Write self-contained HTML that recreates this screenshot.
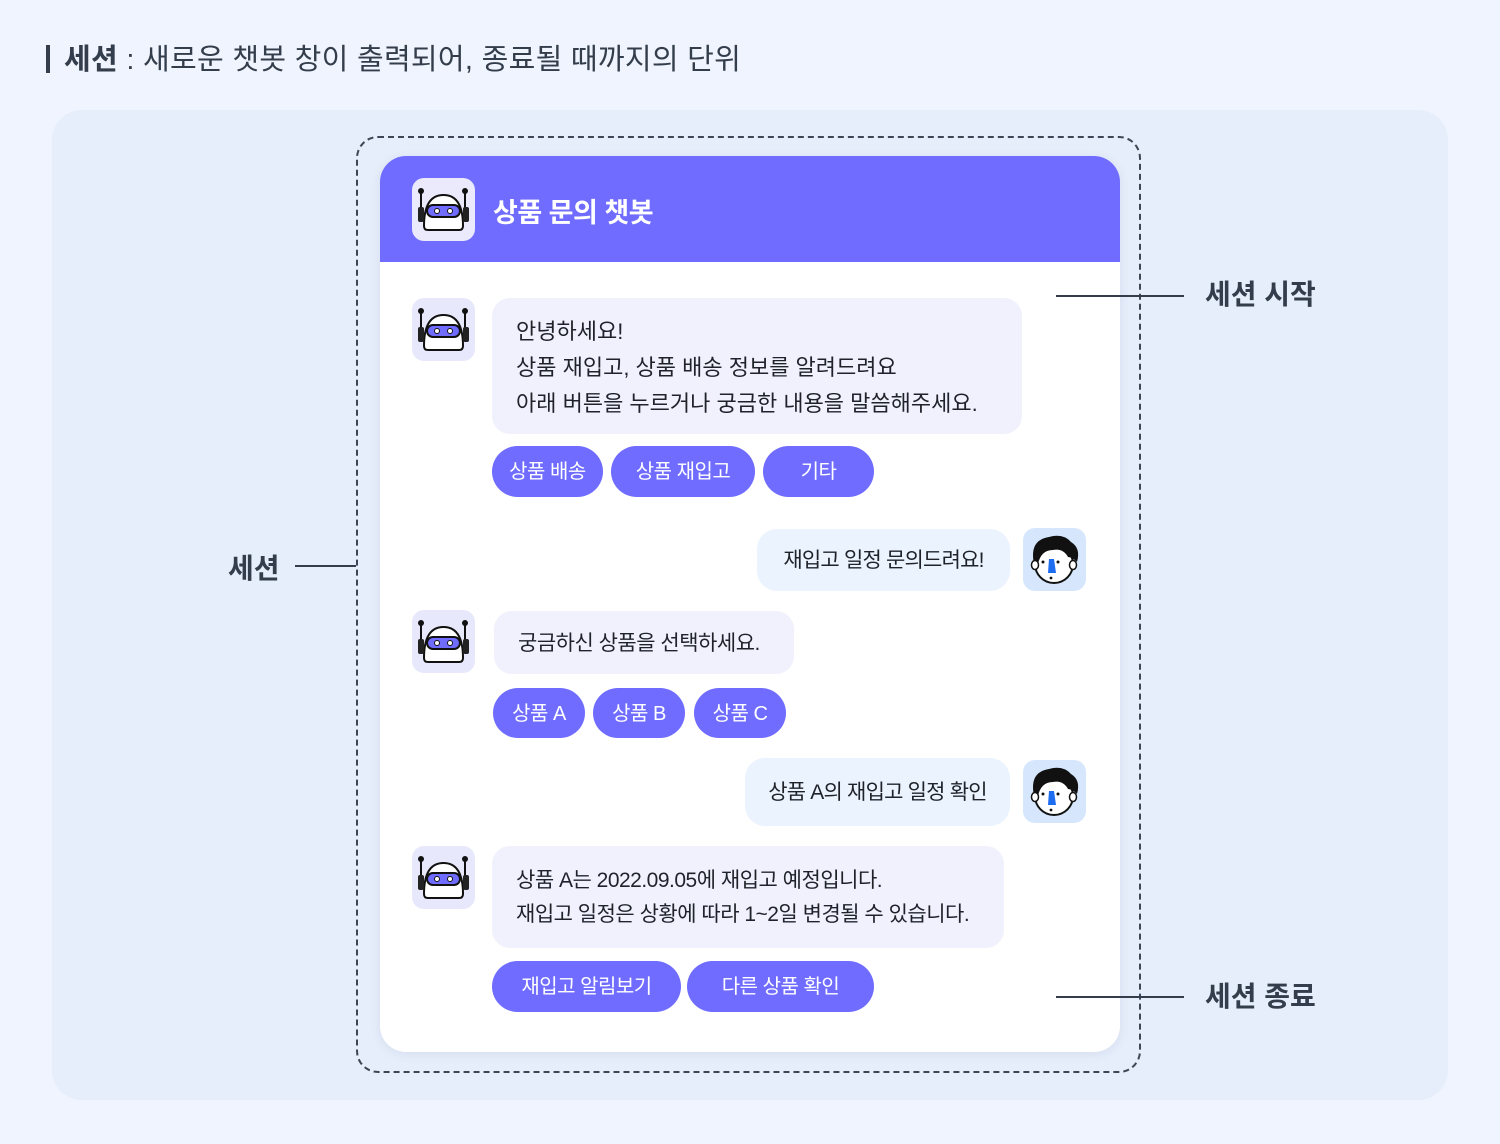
<!DOCTYPE html>
<html><head><meta charset="utf-8"><style>
*{margin:0;padding:0;box-sizing:border-box}
body{width:1500px;height:1144px;background:#eff4fe;font-family:"Liberation Sans","Noto Sans CJK KR",sans-serif;position:relative;overflow:hidden;color:#1f2329}
.a{position:absolute}
.title{left:46px;top:40px;font-size:29px;color:#333d4b;white-space:nowrap;line-height:40px;letter-spacing:0.3px}
.panel{left:52px;top:110px;width:1396px;height:990px;background:#e6eefb;border-radius:30px}
.dash{left:356px;top:136px;width:785px;height:937px;border:2px dashed #3d4656;border-radius:22px}
.card{left:380px;top:156px;width:740px;height:896px;background:#fff;border-radius:26px;overflow:hidden;box-shadow:0 2px 10px rgba(100,110,160,.12)}
.hdr{left:0;top:0;width:740px;height:106px;background:#6f6cff}
.ic{width:63px;height:63px;border-radius:12px;background:#e8e8fc}
.av{width:63px;height:63px;border-radius:12px;background:#d6e7fd}
.bb{background:#f0f1fd;border-radius:18px;font-size:22px;line-height:36px;padding:0 24px;white-space:nowrap;letter-spacing:-0.5px}
.ub{background:#ebf3fe;border-radius:20px;font-size:21px;text-align:center;white-space:nowrap;letter-spacing:-0.8px}
.btn{background:#6f6cff;color:#fff;border-radius:26px;font-size:20px;text-align:center;line-height:53px;height:51px;white-space:nowrap;letter-spacing:-0.5px}
.lbl{font-size:28px;font-weight:bold;color:#333d4b;white-space:nowrap}
.ln{height:2px;background:#333d4b}
</style></head><body>
<div class="a title"><span style="display:inline-block;width:4px;height:28px;background:#333d4b;vertical-align:-4px;margin-right:14px"></span><b>세션</b> : 새로운 챗봇 창이 출력되어, 종료될 때까지의 단위</div>
<div class="a panel"></div>
<div class="a dash"></div>
<div class="a card">
 <div class="a hdr"></div>
</div>
<svg width="0" height="0" style="position:absolute"><defs>
<g id="robot"><line x1="9" y1="13" x2="9" y2="32" stroke="#111" stroke-width="2"/><line x1="53" y1="13" x2="53" y2="32" stroke="#111" stroke-width="2"/><circle cx="9" cy="13" r="3" fill="#111"/><circle cx="53" cy="13" r="3" fill="#111"/>
<path d="M12 48 Q12 17 31.5 17 Q51 17 51 48 Q51 52 47 52 L16 52 Q12 52 12 48Z" fill="#fff" stroke="#111" stroke-width="2"/>
<rect x="6" y="29" width="6" height="15" rx="2" fill="#222"/><rect x="51" y="29" width="6" height="15" rx="2" fill="#222"/>
<rect x="15" y="27" width="33" height="12" rx="6" fill="#6f6cff" stroke="#111" stroke-width="2"/><circle cx="25" cy="33" r="2.5" fill="#fff" stroke="#111" stroke-width="1"/><circle cx="38" cy="33" r="2.5" fill="#fff" stroke="#111" stroke-width="1"/></g>
<g id="face"><ellipse cx="31" cy="36" rx="19" ry="19" fill="#fff" stroke="#111" stroke-width="2"/>
<path d="M11 36 Q6 12 26 9 Q40 5 48 14 Q58 20 54 34 Q49 29 45 29 Q40 20 30 22 Q18 22 15 36Z" fill="#111"/>
<ellipse cx="12" cy="37" rx="3.5" ry="4.5" fill="#fff" stroke="#111" stroke-width="1.5"/><ellipse cx="50" cy="37" rx="3.5" ry="4.5" fill="#fff" stroke="#111" stroke-width="1.5"/>
<circle cx="20" cy="34" r="1.5" fill="#111"/><circle cx="35" cy="34" r="1.5" fill="#111"/><path d="M26 31 L31 31 L33 45 L25 45Z" fill="#1e6cf0"/><circle cx="28" cy="50" r="1.4" fill="#111"/></g>
</defs></svg>
<div class="a" style="left:412px;top:178px;width:63px;height:63px;border-radius:12px;background:#eaeafc"><svg width="63" height="63"><use href="#robot"/></svg></div>
<div class="a" style="left:493px;top:194px;font-size:27px;font-weight:bold;color:#fff;line-height:38px;letter-spacing:-0.5px">상품 문의 챗봇</div>

<div class="a ic" style="left:412px;top:298px"><svg width="63" height="63"><use href="#robot"/></svg></div>
<div class="a bb" style="left:492px;top:298px;width:530px;height:136px;padding-top:16px;letter-spacing:0">안녕하세요!<br>상품 재입고, 상품 배송 정보를 알려드려요<br>아래 버튼을 누르거나 궁금한 내용을 말씀해주세요.</div>
<div class="a btn" style="left:492px;top:446px;width:111px">상품 배송</div>
<div class="a btn" style="left:611px;top:446px;width:144px">상품 재입고</div>
<div class="a btn" style="left:763px;top:446px;width:111px">기타</div>

<div class="a ub" style="left:757px;top:529px;width:253px;height:62px;line-height:64px">재입고 일정 문의드려요!</div>
<div class="a av" style="left:1023px;top:528px"><svg width="63" height="63"><use href="#face"/></svg></div>

<div class="a ic" style="left:412px;top:610px"><svg width="63" height="63"><use href="#robot"/></svg></div>
<div class="a bb" style="left:494px;top:611px;width:300px;height:63px;line-height:65px;font-size:21px">궁금하신 상품을 선택하세요.</div>
<div class="a btn" style="left:493px;top:688px;width:92px;height:50px;line-height:52px">상품 A</div>
<div class="a btn" style="left:593px;top:688px;width:92px;height:50px;line-height:52px">상품 B</div>
<div class="a btn" style="left:694px;top:688px;width:92px;height:50px;line-height:52px">상품 C</div>

<div class="a ub" style="left:745px;top:758px;width:265px;height:68px;line-height:70px">상품 A의 재입고 일정 확인</div>
<div class="a av" style="left:1023px;top:760px"><svg width="63" height="63"><use href="#face"/></svg></div>

<div class="a ic" style="left:412px;top:846px"><svg width="63" height="63"><use href="#robot"/></svg></div>
<div class="a bb" style="left:492px;top:846px;width:512px;height:102px;padding-top:18px;font-size:21px;line-height:34px;letter-spacing:-0.5px">상품 A는 2022.09.05에 재입고 예정입니다.<br>재입고 일정은 상황에 따라 1~2일 변경될 수 있습니다.</div>
<div class="a btn" style="left:492px;top:961px;width:189px">재입고 알림보기</div>
<div class="a btn" style="left:687px;top:961px;width:187px">다른 상품 확인</div>

<div class="a ln" style="left:1056px;top:295px;width:128px"></div>
<div class="a lbl" style="left:1205px;top:275px;line-height:40px">세션 시작</div>
<div class="a ln" style="left:1056px;top:996px;width:128px"></div>
<div class="a lbl" style="left:1205px;top:977px;line-height:40px">세션 종료</div>
<div class="a ln" style="left:295px;top:565px;width:61px"></div>
<div class="a lbl" style="left:228px;top:549px;line-height:40px">세션</div>
</body></html>
